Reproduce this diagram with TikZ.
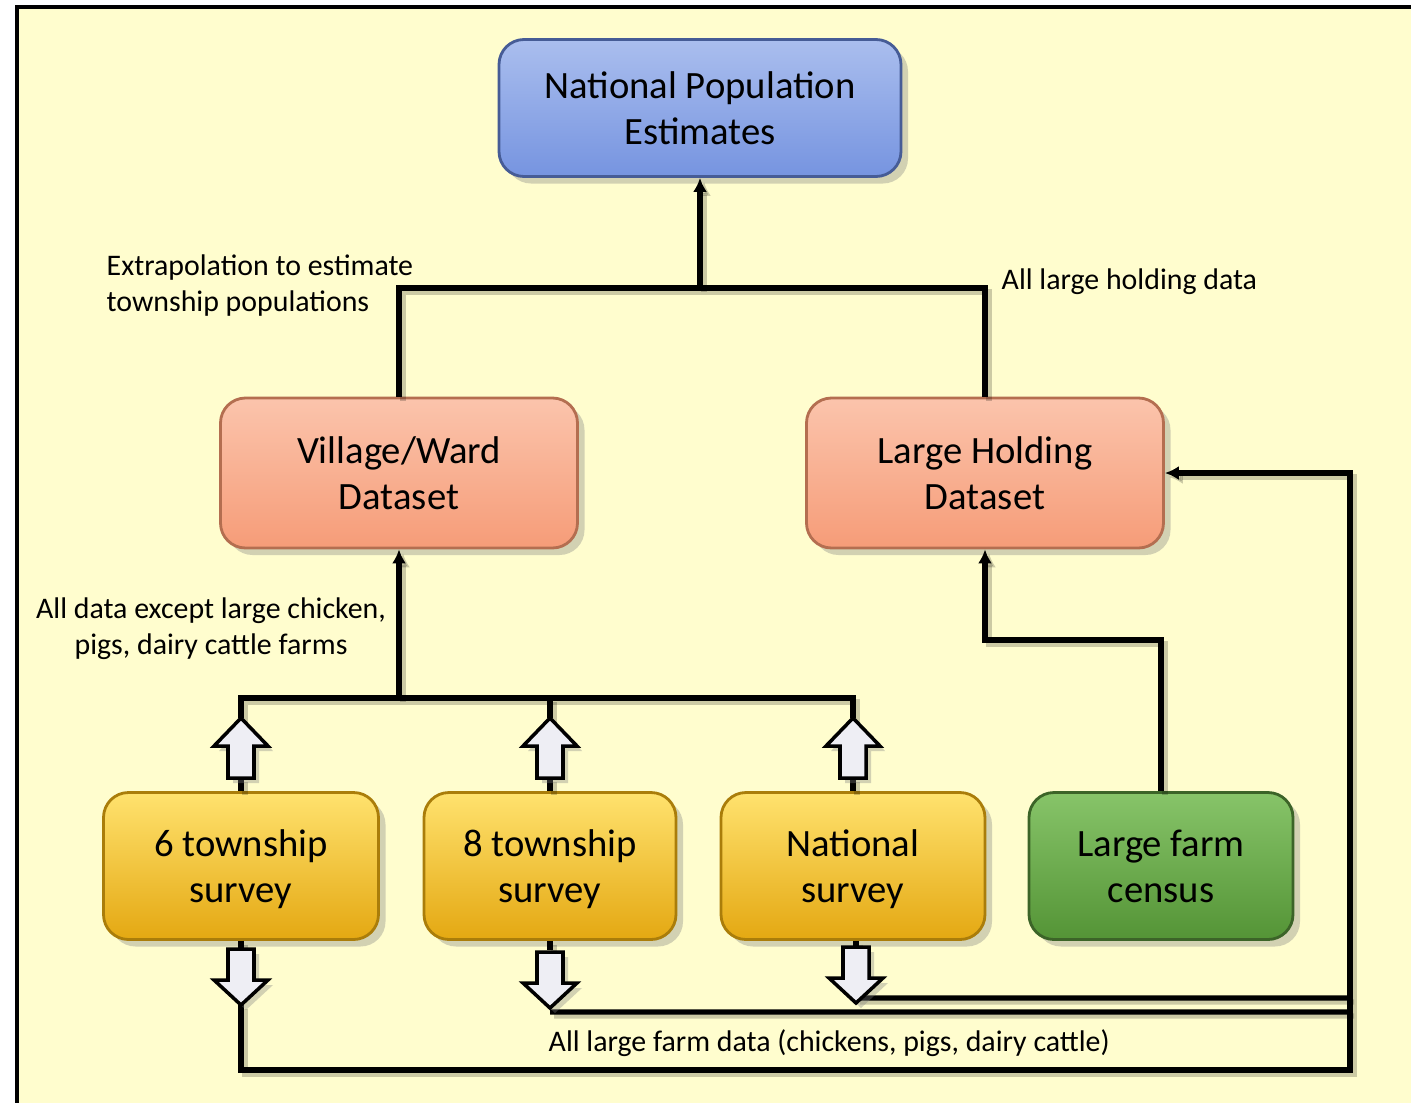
\documentclass[tikz,border=0pt]{standalone}
\usepackage{fontspec}
\setmainfont{Carlito}
\usetikzlibrary{arrows.meta}
\usetikzlibrary{positioning}
\usetikzlibrary{shadows}
\definecolor{bgyel}{RGB}{255,253,206}
\definecolor{bluetop}{RGB}{170,190,238}
\definecolor{bluebot}{RGB}{118,148,224}
\definecolor{blueedge}{RGB}{70,92,150}
\definecolor{salmtop}{RGB}{251,196,172}
\definecolor{salmbot}{RGB}{246,156,120}
\definecolor{salmedge}{RGB}{180,110,80}
\definecolor{yeltop}{RGB}{255,226,110}
\definecolor{yelbot}{RGB}{228,168,18}
\definecolor{yeledge}{RGB}{170,125,10}
\definecolor{grntop}{RGB}{135,196,105}
\definecolor{grnbot}{RGB}{84,148,54}
\definecolor{grnedge}{RGB}{60,100,40}
\definecolor{blockgray}{RGB}{238,238,244}
\newcommand{\boxtop}{\rule{0pt}{11.4pt}}
\tikzset{box/.style = {draw, rounded corners = 0.25cm, line width = 0.8pt, align = center,
    font = \fontsize{11}{13.1}\selectfont, shading = axis,
    drop shadow = {opacity = 0.35, shadow xshift = 0.07cm, shadow yshift = -0.07cm}}}
\tikzset{note/.style = {inner sep = 0, font = \fontsize{8.5}{10.25}\selectfont}}
\tikzset{conn/.style = {line width = 1.5pt,
    preaction = {draw, black, opacity = 0.2, line width = 1.5pt,
      transform canvas = {shift = {(0.04cm, -0.04cm)}}}}}
\tikzset{blockarrow/.style = {draw, fill = blockgray, line width = 1pt, line join = miter,
    drop shadow = {opacity = 0.35, shadow xshift = 0.05cm, shadow yshift = -0.05cm}}}
\tikzset{upblock/.pic = {
    \path[blockarrow] (-0.13, 0.60) -- (-0.13, 0.28) -- (-0.27, 0.28) -- (0, 0)
      -- (0.27, 0.28) -- (0.13, 0.28) -- (0.13, 0.60) -- cycle;}}
\tikzset{downblock/.pic = {
    \path[blockarrow] (-0.13, -0.56) -- (-0.13, -0.25) -- (-0.27, -0.25) -- (0, 0)
      -- (0.27, -0.25) -- (0.13, -0.25) -- (0.13, -0.56) -- cycle;}}

\begin{document}
\begin{tikzpicture}[x = 1cm, y = -1cm]
    \useasboundingbox (0, 0) rectangle (14.11, 11.02);
    \draw [line width = 1pt, fill = bgyel] (0.17, 0.07) rectangle (14.40, 11.30);

    % boxes
    \node [box, minimum width = 4.02cm, minimum height = 1.37cm, top color = bluetop,
      bottom color = bluebot, draw = blueedge] (nat) at (7.00, 1.08) {\boxtop National Population\\Estimates\strut};
    \node [box, minimum width = 3.57cm, minimum height = 1.50cm, top color = salmtop,
      bottom color = salmbot, draw = salmedge] (vil) at (3.99, 4.73) {\boxtop Village/Ward\\Dataset\strut};
    \node [box, minimum width = 3.57cm, minimum height = 1.50cm, top color = salmtop,
      bottom color = salmbot, draw = salmedge] (hold) at (9.85, 4.73) {\boxtop Large Holding\\Dataset\strut};
    \node [box, minimum width = 2.75cm, minimum height = 1.47cm, top color = yeltop,
      bottom color = yelbot, draw = yeledge] (six) at (2.41, 8.66) {\boxtop 6 township\\survey\strut};
    \node [box, minimum width = 2.52cm, minimum height = 1.47cm, top color = yeltop,
      bottom color = yelbot, draw = yeledge] (eight) at (5.50, 8.66) {\boxtop 8 township\\survey\strut};
    \node [box, minimum width = 2.64cm, minimum height = 1.47cm, top color = yeltop,
      bottom color = yelbot, draw = yeledge] (natsurv) at (8.53, 8.66) {\boxtop National\\survey\strut};
    \node [box, minimum width = 2.64cm, minimum height = 1.47cm, top color = grntop,
      bottom color = grnbot, draw = grnedge] (census) at (11.61, 8.66) {\boxtop Large farm\\census\strut};

    % labels
    \node [note, anchor = west, align = left] (extra) at (1.06, 2.86) {Extrapolation to estimate\\township populations};
    \node [note, anchor = west] (holdlab) at (10.01, 2.82) {All large holding data};
    \node [note, align = center] (exceptlab) at (2.11, 6.29) {All data except large chicken,\\pigs, dairy cattle farms};
    \node [note, anchor = west] (farmlab) at (5.48, 10.43) {All large farm data (chickens, pigs, dairy cattle)};

    % junctions
    \coordinate (topjoin) at (7.00, 2.88);
    \coordinate (midjoin) at (3.99, 6.98);
    \coordinate (cenjoin) at (9.85, 6.40);
    \coordinate (rgt) at (13.50, 4.73);
    \coordinate (bend) at (13.50, 10.70);

    % block arrows
    \foreach \nm/\xx in {six/2.41, eight/5.50, natsurv/8.53} {
      \coordinate (up\nm) at (\xx, 7.18);
      \coordinate (upbase\nm) at (\xx, 7.78);
    }
    \coordinate (dnsix) at (2.41, 10.05);
    \coordinate (dneight) at (5.50, 10.08);
    \coordinate (dnnatsurv) at (8.56, 10.03);

    % connectors
    \draw [conn, -{Latex[length = 0.14cm, width = 0.14cm]}] (topjoin) -- (nat.south);
    \draw [conn] (vil.north) -- (vil.north |- topjoin) -- (hold.north |- topjoin) -- (hold.north);
    \draw [conn, -{Latex[length = 0.14cm, width = 0.14cm]}] (midjoin) -- (vil.south);
    \draw [conn] (upsix) -- (upsix |- midjoin) -- (upnatsurv |- midjoin) -- (upnatsurv);
    \draw [conn] (upeight) -- (upeight |- midjoin);
    \foreach \nm in {six, eight, natsurv} {
      \draw [conn] (upbase\nm) -- (\nm.north);
    }
    \draw [conn, -{Latex[length = 0.14cm, width = 0.14cm]}] (census.north) |- (cenjoin) -- (hold.south);
    \draw [conn] (six.south) -- ++(0, 0.09);
    \draw [conn] (eight.south) -- ++(0, 0.09);
    \draw [conn] (natsurv.south -| dnnatsurv) -- ++(0, 0.09);
    \draw [conn, -{Latex[length = 0.14cm, width = 0.14cm]}] (dnsix) |- (bend) -- (rgt) -- (hold.east);
    \draw [conn] (dneight) ++(0, 0.04) -- (13.50, 10.12);
    \draw [conn] (dnnatsurv) ++(0, -0.05) -- (13.50, 9.98);

    % block arrows on top of the lines
    \foreach \nm in {six, eight, natsurv} {
      \pic at (up\nm) {upblock};
      \pic at (dn\nm) {downblock};
    }
\end{tikzpicture}
\end{document}
